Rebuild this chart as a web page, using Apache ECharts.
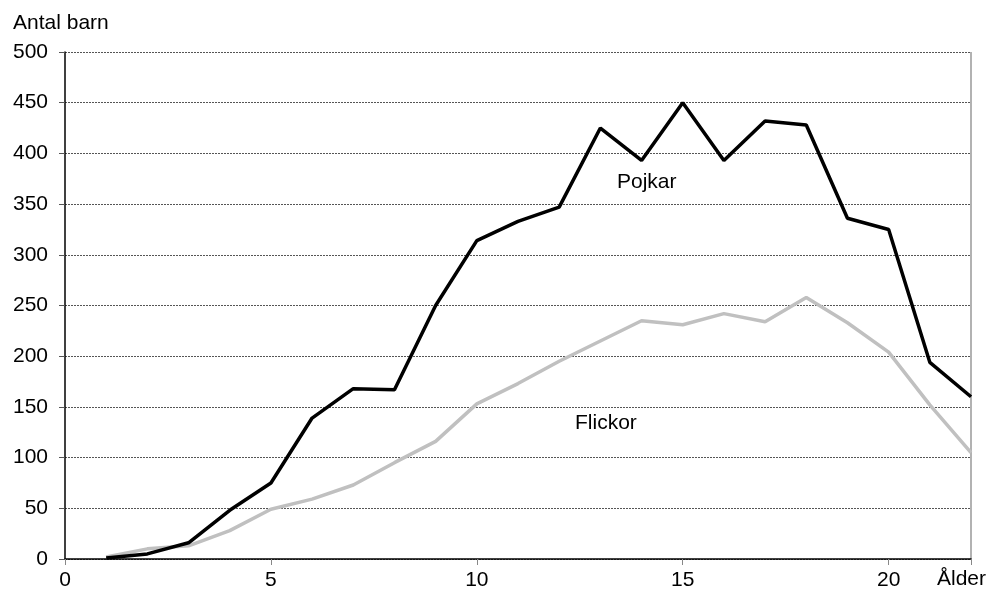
<!DOCTYPE html>
<html><head><meta charset="utf-8">
<script src="https://cdn.jsdelivr.net/npm/echarts@6/dist/echarts.min.js"></script>
<style>html,body{margin:0;padding:0;background:#fff}#c{width:989px;height:595px}</style>
</head><body><div id="c"></div>
<script>
const ages = [1,2,3,4,5,6,7,8,9,10,11,12,13,14,15,16,17,18,19,20,21,22];
const pojkar = [1,5,16,48,75,139,168,167,250,314,333,347,425,393,450,393,432,428,336,325,194,160];
const flickor = [2,10,13,28,49,59,73,95,116,153,173,195,215,235,231,242,234,258,233,204,152,105];
const xTicks = [0,5,10,15,20];
const yTicks = [0,50,100,150,200,250,300,350,400,450,500];
const xName = 'Ålder';
const yName = 'Antal barn';

const chart = echarts.init(document.getElementById('c'));
const font = 'Liberation Sans, Arial, sans-serif';
const fs = 21;
chart.setOption({
  animation:false,
  grid:{left:65,right:18,top:52,bottom:36,show:true,borderColor:'transparent'},
  xAxis:{type:'value',min:0,max:22,interval:5,
    axisLine:{onZero:false,lineStyle:{color:'#000',width:1.5}},
    axisTick:{show:true,length:6,lineStyle:{color:'#888'}},
    axisLabel:{fontFamily:font,fontSize:fs,color:'#000',margin:11,
      formatter:v=>xTicks.includes(v)?String(v):''},
    splitLine:{show:false}},
  yAxis:{type:'value',min:0,max:500,interval:50,
    axisLine:{show:true,lineStyle:{color:'#000',width:1.5}},
    axisTick:{show:true,length:6,lineStyle:{color:'#555'}},
    axisLabel:{fontFamily:font,fontSize:fs,color:'#000',margin:17,
      formatter:v=>yTicks.includes(v)?String(v):''},
    splitLine:{show:true,lineStyle:{color:'#555',type:[2,1],width:1}}},
  graphic:[
    {type:'line',shape:{x1:971,y1:52,x2:971,y2:559},style:{stroke:'#999',lineWidth:1.5}},
    {type:'text',left:13,top:13,style:{text:yName,fontFamily:font,fontSize:fs,fill:'#000'}},
    {type:'text',left:937,top:569,style:{text:xName,fontFamily:font,fontSize:fs,fill:'#000'}},
    {type:'text',left:617,top:172,style:{text:'Pojkar',fontFamily:font,fontSize:fs,fill:'#000'}},
    {type:'text',left:575,top:413,style:{text:'Flickor',fontFamily:font,fontSize:fs,fill:'#000'}}
  ],
  series:[
    {name:'Flickor',type:'line',data:ages.map((a,i)=>[a,flickor[i]]),showSymbol:false,
      lineStyle:{color:'#c0c0c0',width:3.5},z:2},
    {name:'Pojkar',type:'line',data:ages.map((a,i)=>[a,pojkar[i]]),showSymbol:false,
      lineStyle:{color:'#000',width:3.5},z:3}
  ]
});
</script></body></html>
